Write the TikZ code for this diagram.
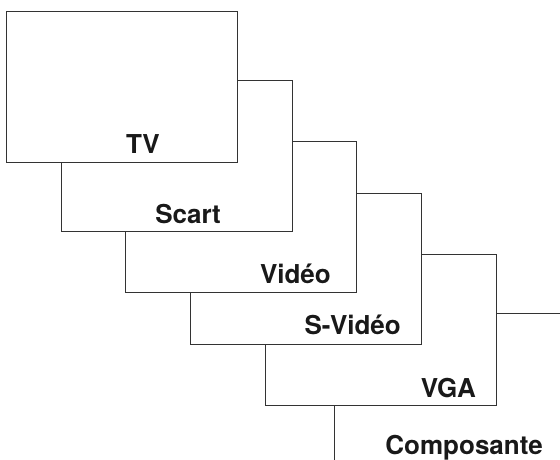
\documentclass[tikz,border=0pt]{standalone}
\usepackage{fontspec}
\setmainfont{TeX Gyre Heros}
\usetikzlibrary{positioning}
\tikzset{
  card/.style={rectangle, draw=black!80, line width=0.9pt, fill=white, minimum width=231pt, minimum height=151pt, anchor=north west, inner sep=0pt, outer sep=0pt},
  tag/.style={anchor=base east, inner sep=0pt, font=\fontsize{26}{30}\selectfont\bfseries, text=black!90}
}
\begin{document}
\begin{tikzpicture}[x=1pt,y=-1pt]
      \useasboundingbox (0,0) rectangle (560,460);
      \clip (0,0) rectangle (560,460);
      \node[name=comp, card] at (334,313){};
      \node[name=vga, card] at (265,254){};
      \node[name=svideo, card] at (190,193){};
      \node[name=video, card] at (125,141){};
      \node[name=scart, card] at (61,80){};
      \node[name=tv, card] at (6,11){};
      \node[name=tvtag, tag] at ([shift={(-77,-9)}]tv.south east){TV};
      \node[name=scarttag, tag] at ([shift={(-71,-8)}]scart.south east){Scart};
      \node[name=videotag, tag] at ([shift={(-25,-9)}]video.south east){Vidéo};
      \node[name=svideotag, tag] at ([shift={(-20,-10)}]svideo.south east){S-Vidéo};
      \node[name=vgatag, tag] at ([shift={(-20,-8)}]vga.south east){VGA};
      \node[name=comptag, tag] at ([shift={(-22,-10)}]comp.south east){Composante};
   \end{tikzpicture}
\end{document}
